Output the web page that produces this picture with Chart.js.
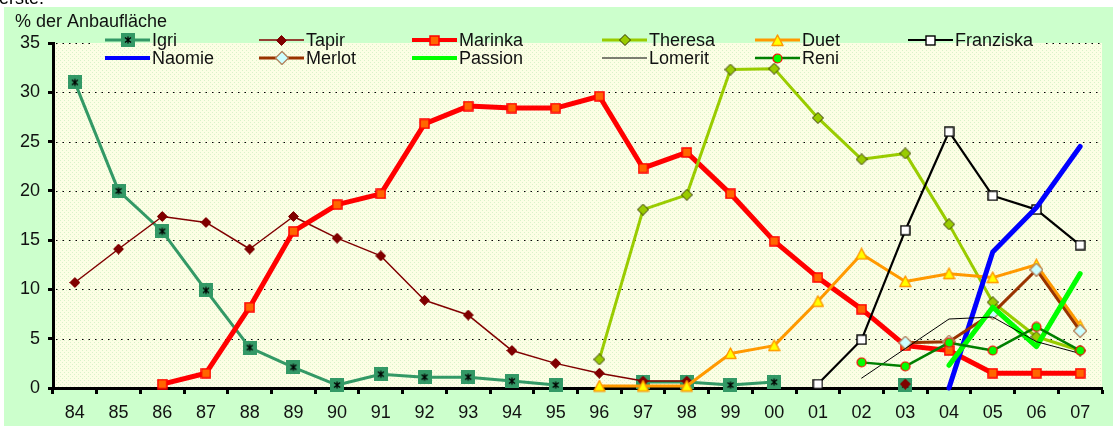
<!DOCTYPE html>
<html lang="de">
<head>
<meta charset="UTF-8">
<title>% der Anbaufläche</title>
<script src="https://cdn.jsdelivr.net/npm/chart.js"></script>
<style>
html, body { margin: 0; padding: 0; background: #ffffff; }
#wrap { position: relative; width: 1113px; height: 426px; }
</style>
</head>
<body>
<div id="wrap"><canvas id="chart" width="1113" height="426"></canvas></div>
<script>
// years 84 .. 07
const years = ['84','85','86','87','88','89','90','91','92','93','94','95',
               '96','97','98','99','00','01','02','03','04','05','06','07'];
const yTicks = [0, 5, 10, 15, 20, 25, 30, 35];
const _ = null;

const igri      = [31.0, 20.0, 15.9, 9.9, 4.1, 2.1, 0.3, 1.4, 1.1, 1.1, 0.7, 0.3, _, 0.6, 0.6, 0.3, 0.6, _, _, 0.3, _, _, _, _];
const tapir     = [10.7, 14.1, 17.4, 16.8, 14.1, 17.4, 15.2, 13.4, 8.9, 7.4, 3.8, 2.5, 1.5, 0.7, 0.7, _, _, _, _, 0.4, _, _, _, _];
const marinka   = [_, _, 0.4, 1.5, 8.2, 15.9, 18.6, 19.7, 26.8, 28.6, 28.4, 28.4, 29.6, 22.3, 23.9, 19.7, 14.9, 11.2, 8.0, 4.3, 3.8, 1.5, 1.5, 1.5];
const theresa   = [_, _, _, _, _, _, _, _, _, _, _, _, 2.9, 18.1, 19.6, 32.3, 32.4, 27.4, 23.2, 23.8, 16.6, 8.7, 5.2, 3.8];
const duet      = [_, _, _, _, _, _, _, _, _, _, _, _, 0.2, 0.2, 0.2, 3.5, 4.3, 8.8, 13.6, 10.8, 11.6, 11.2, 12.5, 6.3];
const franziska = [_, _, _, _, _, _, _, _, _, _, _, _, _, _, _, _, _, 0.4, 4.9, 16.0, 26.0, 19.5, 18.1, 14.5];
const naomie    = [_, _, _, _, _, _, _, _, _, _, _, _, _, _, _, _, _, _, _, _, 0.0, 13.8, 18.3, 24.5];
const merlot    = [_, _, _, _, _, _, _, _, _, _, _, _, _, _, _, _, _, _, _, 4.6, 4.7, 7.6, 12.0, 5.8];
const passion   = [_, _, _, _, _, _, _, _, _, _, _, _, _, _, _, _, _, _, _, _, 2.3, 8.2, 4.2, 11.6];
const lomerit   = [_, _, _, _, _, _, _, _, _, _, _, _, _, _, _, _, _, _, 1.0, 4.0, 7.0, 7.2, 4.7, 3.5];
const reni      = [_, _, _, _, _, _, _, _, _, _, _, _, _, _, _, _, _, _, 2.6, 2.2, 4.6, 3.8, 6.2, 3.8];

const seriesNames = ['Igri','Tapir','Marinka','Theresa','Duet','Franziska',
                     'Naomie','Merlot','Passion','Lomerit','Reni'];
const seriesData = [igri, tapir, marinka, theresa, duet, franziska,
                    naomie, merlot, passion, lomerit, reni];

const FONT = '"Liberation Sans", Arial, sans-serif';
const FSIZE = 18;

// small canvas markers, excel style
function marker(size, draw) {
    const c = document.createElement('canvas');
    c.width = size; c.height = size;
    draw(c.getContext('2d'), size);
    return c;
}
function diamond(g, s, fill, stroke, lw) {
    const h = s / 2;
    g.beginPath();
    g.moveTo(h, 0.5); g.lineTo(s - 0.5, h); g.lineTo(h, s - 0.5); g.lineTo(0.5, h);
    g.closePath();
    g.fillStyle = fill; g.fill();
    if (stroke) { g.lineJoin = 'round'; g.lineWidth = lw; g.strokeStyle = stroke; g.stroke(); }
}

const markers = {
    Igri: marker(14, (g, s) => {
        g.fillStyle = '#339966'; g.fillRect(0, 0, s, s);
        g.strokeStyle = '#000'; g.lineWidth = 1.3;
        g.beginPath();
        g.moveTo(4, 4.5); g.lineTo(10, 9.5);
        g.moveTo(10, 4.5); g.lineTo(4, 9.5);
        g.moveTo(7, 3.5); g.lineTo(7, 10.5);
        g.stroke();
    }),
    Tapir: marker(11, (g, s) => diamond(g, s, '#800000', '#800000', 1)),
    Marinka: marker(11, (g, s) => {
        g.fillStyle = '#ff6600'; g.fillRect(1, 1, s - 2, s - 2);
        g.strokeStyle = '#ff0000'; g.lineWidth = 1.5; g.strokeRect(1, 1, s - 2, s - 2);
    }),
    Theresa: marker(12, (g, s) => diamond(g, s, '#99cc00', '#333300', 1)),
    Duet: marker(13, (g, s) => {
        g.beginPath();
        g.moveTo(s / 2, 1); g.lineTo(s - 1, s - 1.5); g.lineTo(1, s - 1.5); g.closePath();
        g.fillStyle = '#ffff00'; g.fill();
        g.lineWidth = 1.5; g.strokeStyle = '#ff9900'; g.lineJoin = 'round'; g.stroke();
    }),
    Franziska: marker(11, (g, s) => {
        g.fillStyle = '#ffffff'; g.fillRect(1, 1, s - 2, s - 2);
        g.strokeStyle = '#000'; g.lineWidth = 1.4; g.strokeRect(1, 1, s - 2, s - 2);
    }),
    Merlot: marker(14, (g, s) => diamond(g, s, '#ccffff', '#b0805a', 1.2)),
    Reni: marker(11, (g, s) => {
        g.beginPath(); g.arc(s / 2, s / 2, s / 2 - 1, 0, Math.PI * 2);
        g.fillStyle = '#00ff00'; g.fill();
        g.lineWidth = 1.2; g.strokeStyle = '#ff0000'; g.stroke();
    })
};

const seriesStyle = {
    Igri:      { color: '#339966', width: 3 },
    Tapir:     { color: '#800000', width: 1.5 },
    Marinka:   { color: '#ff0000', width: 5 },
    Theresa:   { color: '#99cc00', width: 3 },
    Duet:      { color: '#ff9900', width: 3 },
    Franziska: { color: '#000000', width: 2.2 },
    Naomie:    { color: '#0000ff', width: 5 },
    Merlot:    { color: '#993300', width: 3 },
    Passion:   { color: '#00ff00', width: 5 },
    Lomerit:   { color: '#000000', width: 1 },
    Reni:      { color: '#008000', width: 2.5 }
};

// dotted cream plot area
function plotPattern(ctx) {
    const c = document.createElement('canvas');
    c.width = 4; c.height = 4;
    const g = c.getContext('2d');
    g.fillStyle = '#fcfee4'; g.fillRect(0, 0, 4, 4);
    g.fillStyle = '#d9f2c9';
    g.fillRect(0, 0, 1, 1); g.fillRect(2, 2, 1, 1);
    return ctx.createPattern(c, 'repeat');
}

const datasets = seriesNames.map((name, i) => ({
    label: name,
    data: seriesData[i],
    borderColor: seriesStyle[name].color,
    backgroundColor: seriesStyle[name].color,
    borderWidth: seriesStyle[name].width,
    pointStyle: markers[name] || false,
    pointRadius: markers[name] ? 6 : 0,
    tension: 0,
    borderJoinStyle: 'round',
    borderCapStyle: 'round',
    spanGaps: name === 'Igri' ? 2.5 : false,
    clip: false,
    order: -i          // later series on top, like excel
}));

const LEGEND_LEFT = 93, LEGEND_RIGHT = 1046;

const frame = {
    id: 'frame',
    beforeDraw(chart) {
        const ctx = chart.ctx, a = chart.chartArea;
        ctx.save();
        ctx.fillStyle = '#ffffff';
        ctx.fillRect(0, 0, chart.width, chart.height);
        ctx.fillStyle = '#ccffcc';
        ctx.fillRect(4, 7, chart.width - 4, chart.height - 7);
        ctx.fillStyle = plotPattern(ctx);
        ctx.fillRect(a.left, a.top, a.right - a.left, a.bottom - a.top);
        // cut off text from above
        ctx.fillStyle = '#000';
        ctx.font = FSIZE + 'px ' + FONT;
        ctx.textBaseline = 'alphabetic';
        ctx.fillText('erste.', -1, 4);
        // axis title
        ctx.fillStyle = '#111';
        ctx.fillText('% der Anbaufläche', 15, 27);
        ctx.restore();
    },
    beforeDatasetsDraw(chart) {
        // dotted horizontal gridlines
        const ctx = chart.ctx, a = chart.chartArea, ys = chart.scales.y;
        ctx.save();
        ctx.strokeStyle = '#000'; ctx.lineWidth = 1; ctx.setLineDash([1.5, 5]);
        ctx.beginPath();
        yTicks.forEach(v => {
            if (v === 0) return;
            const y = Math.round(ys.getPixelForValue(v)) + 0.5;
            if (v === 35) {       // top line hidden behind the legend
                ctx.moveTo(a.left + 3, y); ctx.lineTo(LEGEND_LEFT, y);
                ctx.moveTo(LEGEND_RIGHT, y); ctx.lineTo(a.right, y);
            } else {
                ctx.moveTo(a.left + 3, y); ctx.lineTo(a.right, y);
            }
        });
        ctx.stroke();
        ctx.restore();
    },
    afterDraw(chart) {
        const ctx = chart.ctx;
        ctx.save();
        // legend, 6 columns
        const cols = [105, 259, 412, 602, 755, 908];
        ctx.font = FSIZE + 'px ' + FONT;
        ctx.textBaseline = 'middle';
        ctx.fillStyle = '#111';
        seriesNames.forEach((name, i) => {
            const x = cols[i % 6], y = 40 + Math.floor(i / 6) * 18;
            const st = seriesStyle[name];
            ctx.strokeStyle = st.color;
            ctx.lineWidth = Math.min(st.width, 4);
            ctx.lineCap = 'butt';
            ctx.beginPath(); ctx.moveTo(x, y); ctx.lineTo(x + 45, y); ctx.stroke();
            const m = markers[name];
            if (m) ctx.drawImage(m, Math.round(x + 22.5 - m.width / 2), Math.round(y - m.height / 2));
            ctx.fillText(name, x + 47, y + 1);
        });
        ctx.restore();
    }
};

new Chart(document.getElementById('chart'), {
    type: 'line',
    data: { labels: years, datasets: datasets },
    options: {
        responsive: false,
        animation: false,
        events: [],
        layout: { padding: { top: 43, right: 0, left: 0, bottom: 0 } },
        plugins: { legend: { display: false }, tooltip: { enabled: false } },
        scales: {
            x: {
                offset: true,
                afterFit: s => { s.height = 38; },
                grid: {
                    offset: true,
                    drawOnChartArea: false,
                    tickLength: 6,
                    tickWidth: 3,
                    tickColor: '#000'
                },
                border: { display: true, color: '#000', width: 3 },
                ticks: {
                    color: '#111',
                    font: { family: FONT, size: FSIZE },
                    padding: 8,
                    maxRotation: 0,
                    autoSkip: false
                }
            },
            y: {
                min: 0,
                max: 35,
                afterFit: s => { s.width = 53; },
                afterBuildTicks: s => { s.ticks = yTicks.map(v => ({ value: v })); },
                grid: {
                    drawOnChartArea: false,
                    tickColor: '#000',
                    tickWidth: 3,
                    tickLength: 5
                },
                border: { display: true, color: '#000', width: 3 },
                ticks: {
                    color: '#111',
                    font: { family: FONT, size: FSIZE },
                    padding: 8
                }
            }
        }
    },
    plugins: [frame]
});
</script>
</body>
</html>
